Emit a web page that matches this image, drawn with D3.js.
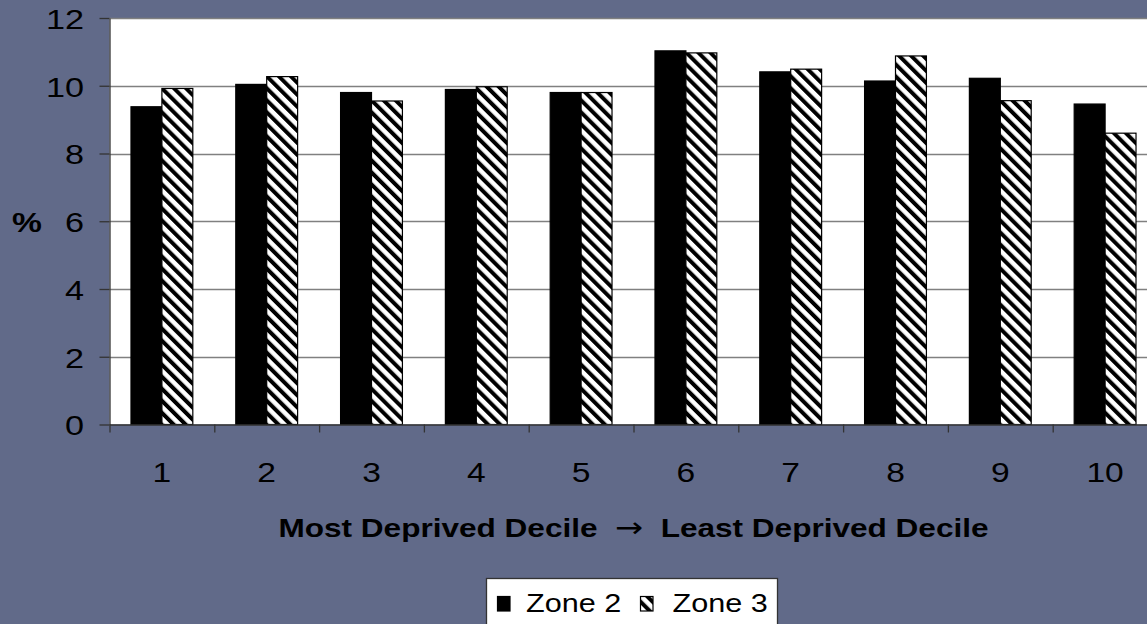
<!DOCTYPE html>
<html>
<head>
<meta charset="utf-8">
<script src="https://cdn.jsdelivr.net/npm/d3@7"></script>
<style>
  html, body { margin: 0; padding: 0; background: #616a89; }
  svg { display: block; }
  text { font-family: "Liberation Sans", Arial, sans-serif; fill: #000; }
</style>
</head>
<body>
<svg id="chart" width="1147" height="624"></svg>
<script>
// Share of population in each deprivation decile, by zone
const deciles = ["1", "2", "3", "4", "5", "6", "7", "8", "9", "10"];
const seriesNames = ["Zone 2", "Zone 3"];
const zone2 = [9.38, 10.04, 9.80, 9.89, 9.80, 11.03, 10.41, 10.14, 10.22, 9.46];
const zone3 = [9.92, 10.27, 9.55, 9.97, 9.80, 10.97, 10.49, 10.88, 9.56, 8.60];
const yTicks = [0, 2, 4, 6, 8, 10, 12];
const yLabel = "%";
const xTitleLeft = "Most Deprived Decile";
const xTitleArrow = "\u2192";
const xTitleRight = "Least Deprived Decile";

const svg = d3.select("#chart");
const SX = 1.2; // text is drawn slightly wide

// plot area
const plotL = 109.5, plotR = 1157.5, plotT = 18, plotB = 424.5;

const y = d3.scaleLinear().domain([0, 12]).range([plotB, plotT]);
const xCat = d3.scaleBand().domain(deciles).range([plotL, plotR]).padding(0);
const x = d3.scaleBand().domain(deciles).range([plotL, plotR])
  .paddingInner(0.41).paddingOuter(0.205);
const xSub = d3.scaleBand().domain(seriesNames).range([0, x.bandwidth()]);
const xBound = d3.scaleLinear().domain([0, deciles.length]).range([plotL, plotR]);

// hatch pattern for Zone 3
const defs = svg.append("defs");
const pat = defs.append("pattern")
  .attr("id", "hatch")
  .attr("patternUnits", "userSpaceOnUse")
  .attr("width", 8.5).attr("height", 8.5)
  .attr("patternTransform", "rotate(-45)");
pat.append("rect").attr("width", 8.5).attr("height", 8.5).attr("fill", "#fff");
pat.append("rect").attr("width", 4).attr("height", 8.5).attr("fill", "#000");

// plot background
svg.append("rect")
  .attr("x", plotL).attr("y", plotT)
  .attr("width", plotR - plotL).attr("height", plotB - plotT)
  .attr("fill", "#fff");

// gridlines
svg.append("g")
  .selectAll("line")
  .data(yTicks.filter(d => d > 0))
  .join("line")
  .attr("x1", plotL).attr("x2", plotR)
  .attr("y1", d => Math.round(y(d)) + 0.5).attr("y2", d => Math.round(y(d)) + 0.5)
  .attr("stroke", "#808080").attr("stroke-width", 1.3);

// bars
const rows = deciles.map((d, i) => ({ decile: d, values: [
  { key: "Zone 2", value: zone2[i] },
  { key: "Zone 3", value: zone3[i] }
]}));

const groups = svg.append("g").selectAll("g")
  .data(rows)
  .join("g")
  .attr("transform", d => `translate(${x(d.decile)},0)`);

groups.selectAll("rect")
  .data(d => d.values)
  .join("rect")
  .attr("x", d => xSub(d.key))
  .attr("y", d => y(d.value))
  .attr("width", xSub.bandwidth())
  .attr("height", d => y(0) - y(d.value))
  .attr("fill", d => d.key === "Zone 2" ? "#000" : "url(#hatch)")
  .attr("stroke", "#000")
  .attr("stroke-width", 1.2);

// y axis
const yAxis = svg.append("g")
  .attr("transform", `translate(${plotL},0)`)
  .call(d3.axisLeft(y).tickValues(yTicks).tickSize(10).tickSizeOuter(0));
yAxis.select(".domain").attr("stroke", "#333").attr("stroke-width", 1.3);
yAxis.selectAll(".tick line").attr("stroke", "#333").attr("stroke-width", 1.3);
yAxis.selectAll(".tick text")
  .attr("x", -25.5 / SX)
  .attr("dy", "0.36em")
  .attr("transform", `scale(${SX},1)`)
  .style("font-size", "28.5px")
  .style("font-family", "Liberation Sans, Arial, sans-serif")
  .attr("fill", "#000");

// x axis: boundary ticks
const xTickAxis = svg.append("g")
  .attr("transform", `translate(0,${plotB})`)
  .call(d3.axisBottom(xBound).ticks(deciles.length).tickFormat("").tickSize(8).tickSizeOuter(0));
xTickAxis.select(".domain").attr("stroke", "#333").attr("stroke-width", 1.3);
xTickAxis.selectAll(".tick line").attr("stroke", "#333").attr("stroke-width", 1.3);

// x axis: category labels
const xLabAxis = svg.append("g")
  .attr("transform", `translate(0,${plotB})`)
  .call(d3.axisBottom(xCat).tickSize(0).tickSizeOuter(0));
xLabAxis.select(".domain").remove();
xLabAxis.selectAll(".tick text")
  .attr("y", 57.5)
  .attr("dy", 0)
  .attr("transform", `scale(${SX},1)`)
  .style("font-size", "28px")
  .style("font-family", "Liberation Sans, Arial, sans-serif")
  .attr("fill", "#000");

// y axis label
svg.append("text")
  .attr("transform", `translate(27,231.5) scale(${SX},1)`)
  .attr("text-anchor", "middle")
  .style("font-size", "28px")
  .style("font-weight", "bold")
  .text(yLabel);

// x axis title
const title = svg.append("text")
  .attr("transform", `translate(${(plotL + plotR) / 2},537) scale(${SX},1)`)
  .attr("text-anchor", "middle")
  .attr("xml:space", "preserve")
  .style("font-size", "26.3px")
  .style("font-weight", "bold");
title.append("tspan").text(xTitleLeft + "  ");
title.append("tspan")
  .style("font-weight", "normal")
  .style("font-family", "DejaVu Sans, sans-serif")
  .style("font-size", "28px")
  .text(xTitleArrow);
title.append("tspan").text("  " + xTitleRight);

// legend
const legend = svg.append("g");
legend.append("rect")
  .attr("x", 486.5).attr("y", 578.5)
  .attr("width", 291).attr("height", 70)
  .attr("fill", "#fff").attr("stroke", "#333").attr("stroke-width", 1.3);

const legendItems = [
  { key: seriesNames[0], sx: 497.5, tx: 526 },
  { key: seriesNames[1], sx: 640.5, tx: 672.5 }
];
legendItems.forEach(it => {
  legend.append("rect")
    .attr("x", it.sx).attr("y", 596.5)
    .attr("width", 12.5).attr("height", 14.5)
    .attr("fill", it.key === "Zone 2" ? "#000" : "url(#hatch)")
    .attr("stroke", "#000").attr("stroke-width", 1.2);
  legend.append("text")
    .attr("transform", `translate(${it.tx},611.5) scale(${SX},1)`)
    .style("font-size", "25.5px")
    .text(it.key);
});
</script>
</body>
</html>
